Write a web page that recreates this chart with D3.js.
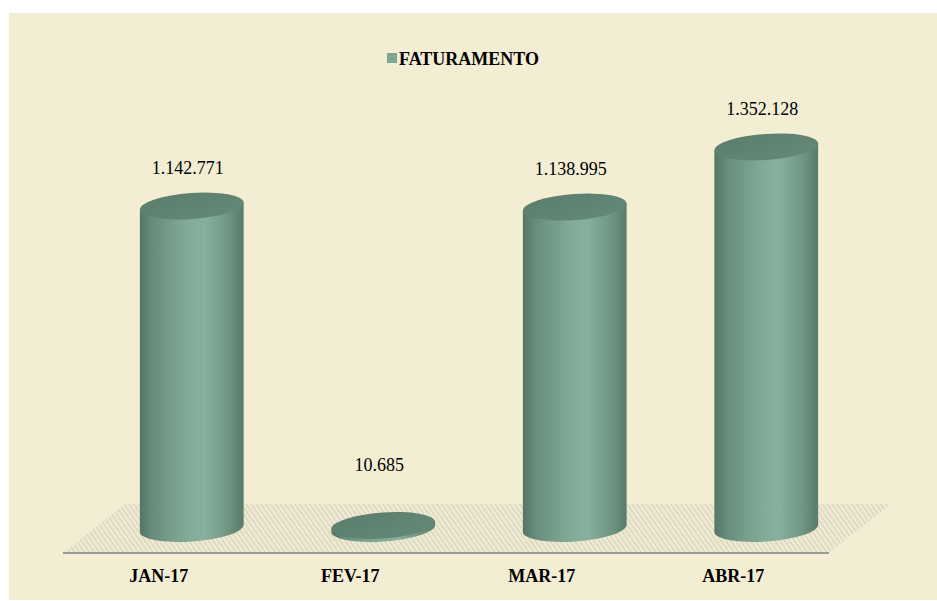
<!DOCTYPE html>
<head>
  <meta charset="utf-8">
  <title>Faturamento</title>
  <script src="https://cdn.jsdelivr.net/npm/d3@7"></script>
  <style>
  body { margin: 0; background: #fff; }
  </style>
</head>
<body>
<script>
// data
var months = ["JAN-17", "FEV-17", "MAR-17", "ABR-17"];
var faturamento = [1142771, 10685, 1138995, 1352128];
var valueLabels = ["1.142.771", "10.685", "1.138.995", "1.352.128"];
var seriesName = "FATURAMENTO";

var WIDTH = 937, HEIGHT = 601;
var FONT = "'Liberation Serif'";
var svg = d3.select("body").append("svg")
  .attr("width", WIDTH)
  .attr("height", HEIGHT);

var defs = svg.append("defs");

// cylinder side shading
var grad = defs.append("linearGradient").attr("id", "cyl")
  .attr("x1", "0%").attr("x2", "100%").attr("y1", "0%").attr("y2", "0%");
[[0, "#557666"], [0.12, "#668d7a"], [0.45, "#82ab97"], [0.62, "#87b19d"], [0.85, "#6f9683"], [1, "#587a6a"]]
  .forEach(function(s){ grad.append("stop").attr("offset", s[0]).attr("stop-color", s[1]); });

var topGrad = defs.append("linearGradient").attr("id", "cyltop")
  .attr("x1", "0%").attr("x2", "100%").attr("y1", "0%").attr("y2", "100%");
topGrad.append("stop").attr("offset", 0).attr("stop-color", "#5b7d6c");
topGrad.append("stop").attr("offset", 1).attr("stop-color", "#658a77");

// floor hatch
var pat = defs.append("pattern").attr("id", "hatch")
  .attr("patternUnits", "userSpaceOnUse").attr("width", 4).attr("height", 4)
  .attr("patternTransform", "rotate(-35)");
pat.append("rect").attr("width", 4).attr("height", 4).attr("fill", "#eee9d2");
pat.append("line").attr("x1", 0).attr("y1", 0).attr("x2", 0).attr("y2", 4)
  .attr("stroke", "#cfc9b3").attr("stroke-width", 1.6);

// panel
svg.append("rect").attr("x", 9).attr("y", 13).attr("width", 928).attr("height", 587)
  .attr("fill", "#f2edd3");

// geometry
var frontY = 553, depthX = 62, depthY = 49;
var x = d3.scaleBand().domain(months).range([63, 829]).paddingInner(0).paddingOuter(0);
var baseY = frontY - depthY / 2;
var y = d3.scaleLinear().domain([0, 1600000]).range([baseY, 77]);
var rx = 52, ry = 13, rot = -4;
var th = rot * Math.PI / 180;

// floor
var floorPts = [[63, frontY], [829, frontY], [829 + depthX, frontY - depthY], [63 + depthX, frontY - depthY]];
svg.append("path")
  .attr("d", d3.line()(floorPts) + "Z")
  .attr("fill", "url(#hatch)");
svg.append("line")
  .attr("x1", 63).attr("x2", 829).attr("y1", frontY).attr("y2", frontY)
  .attr("stroke", "#9a9a96").attr("stroke-width", 2);

// legend
var leg = svg.append("g");
leg.append("rect").attr("x", 387).attr("y", 53).attr("width", 10).attr("height", 10).attr("fill", "#7fa690");
leg.append("text").attr("x", 399).attr("y", 64.5)
  .style("font-family", FONT)
  .attr("font-size", 18).attr("font-weight", "bold").text(seriesName);

// cylinders
var data = months.map(function(m, i){ return {m: m, v: faturamento[i], lab: valueLabels[i]}; });

var bars = svg.append("g").selectAll("g").data(data).enter().append("g");

function cx(d){ return x(d.m) + x.bandwidth() / 2 + depthX / 2 + 2; }

bars.append("path")
  .attr("fill", "url(#cyl)")
  .attr("d", function(d){
    var c = cx(d), t = y(d.v), b = baseY;
    var lx = c - rx * Math.cos(th), ldy = -rx * Math.sin(th);
    var rxp = c + rx * Math.cos(th), rdy = rx * Math.sin(th);
    return "M" + lx + "," + (t + ldy) +
      "L" + lx + "," + (b + ldy) +
      "A" + rx + "," + ry + " " + rot + " 0 0 " + rxp + "," + (b + rdy) +
      "L" + rxp + "," + (t + rdy) + "Z";
  });

bars.append("ellipse")
  .attr("cx", 0).attr("cy", 0).attr("rx", rx).attr("ry", ry)
  .attr("transform", function(d){ return "translate(" + cx(d) + "," + y(d.v) + ") rotate(" + rot + ")"; })
  .attr("fill", "url(#cyltop)");

bars.append("text")
  .attr("x", function(d){ return cx(d) - 4; })
  .attr("y", function(d){ return Math.min(y(d.v) - 32, baseY - 58); })
  .attr("text-anchor", "middle")
  .style("font-family", FONT)
  .attr("font-size", 18)
  .text(function(d){ return d.lab; });

// category labels
svg.append("g").selectAll("text").data(months).enter().append("text")
  .attr("x", function(d){ return x(d) + x.bandwidth() / 2; })
  .attr("y", 582)
  .attr("text-anchor", "middle")
  .style("font-family", FONT)
  .attr("font-size", 18)
  .attr("font-weight", "bold")
  .text(function(d){ return d; });
</script>
</body>
